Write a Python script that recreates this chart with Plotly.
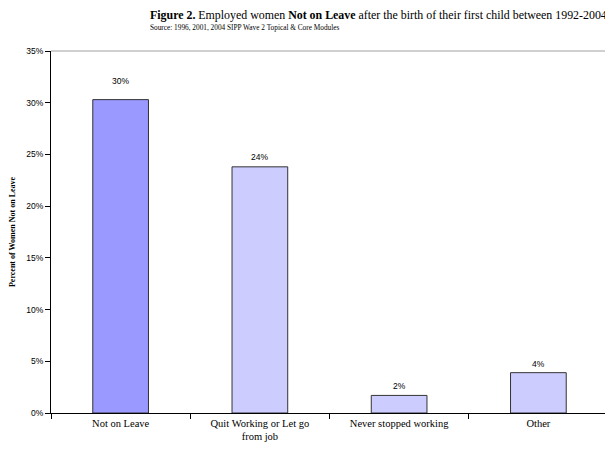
import plotly.graph_objects as go

categories = ["Not on Leave", "Quit Working or Let go<br>from job", "Never stopped working", "Other"]
values = [30.3, 23.8, 1.7, 3.9]
labels = ["30%", "24%", "2%", "4%"]
bar_colors = ["#9999FF", "#CCCCFF", "#CCCCFF", "#CCCCFF"]
y_ticks = [0, 5, 10, 15, 20, 25, 30, 35]
y_tick_labels = ["0%", "5%", "10%", "15%", "20%", "25%", "30%", "35%"]

SERIF = "Liberation Serif, Times New Roman, serif"
SANS = "Liberation Sans, Arial, sans-serif"

fig = go.Figure()
fig.add_trace(go.Bar(
    x=categories, y=values,
    marker=dict(color=bar_colors, line=dict(color="#333333", width=1)),
    width=0.4, hoverinfo="skip",
))

label_gap = [19, 10, 9, 9]
annotations = []
for c, v, t, g in zip(categories, values, labels, label_gap):
    annotations.append(dict(x=c, y=v, text=t, showarrow=False, xref="x", yref="y",
                            yshift=g, font=dict(family=SANS, size=8.5, color="#000")))

annotations.append(dict(
    text="<b>Figure 2.</b> Employed women <b>Not on Leave</b> after the birth of their first child between 1992-2004",
    xref="paper", yref="paper", x=(148 - 51) / 557, y=1, yshift=36, xanchor="left", yanchor="middle",
    showarrow=False, font=dict(family=SERIF, size=11.9, color="#000")))
annotations.append(dict(
    text="Source: 1996, 2001, 2004 SIPP Wave 2 Topical & Core Modules",
    xref="paper", yref="paper", x=(148 - 51) / 557, y=1, yshift=24, xanchor="left", yanchor="middle",
    showarrow=False, font=dict(family=SERIF, size=7.3, color="#000")))

fig.update_layout(
    width=605, height=444,
    margin=dict(l=43, r=5, t=43, b=39, pad=0, autoexpand=False),
    paper_bgcolor="white", plot_bgcolor="white",
    showlegend=False,
    annotations=annotations,
    bargap=0.6,
    shapes=[
        dict(type="line", xref="paper", yref="paper", x0=0, x1=1, y0=1, y1=1,
             line=dict(color="#A0A0A0", width=1)),
        dict(type="line", xref="paper", yref="paper", x0=1, x1=1, y0=0, y1=1,
             line=dict(color="#A0A0A0", width=2)),
    ],
)
fig.update_xaxes(
    showline=True, linecolor="#000", linewidth=1,
    ticks="outside", tickson="boundaries", ticklen=5, tickcolor="#000",
    tickfont=dict(family=SERIF, size=10.5, color="#000"),
    showgrid=False, fixedrange=True, automargin=False,
)
fig.update_yaxes(
    range=[0, 35], tickvals=y_ticks, ticktext=y_tick_labels,
    showline=True, linecolor="#000", linewidth=1,
    ticks="outside", ticklen=5, tickcolor="#000",
    tickfont=dict(family=SANS, size=8.5, color="#000"),
    showgrid=False, zeroline=False, automargin=False,
    title=dict(text="<b>Percent of Women Not on Leave</b>", font=dict(family=SERIF, size=8, color="#000"), standoff=12),
)

fig.write_html("out.html")
